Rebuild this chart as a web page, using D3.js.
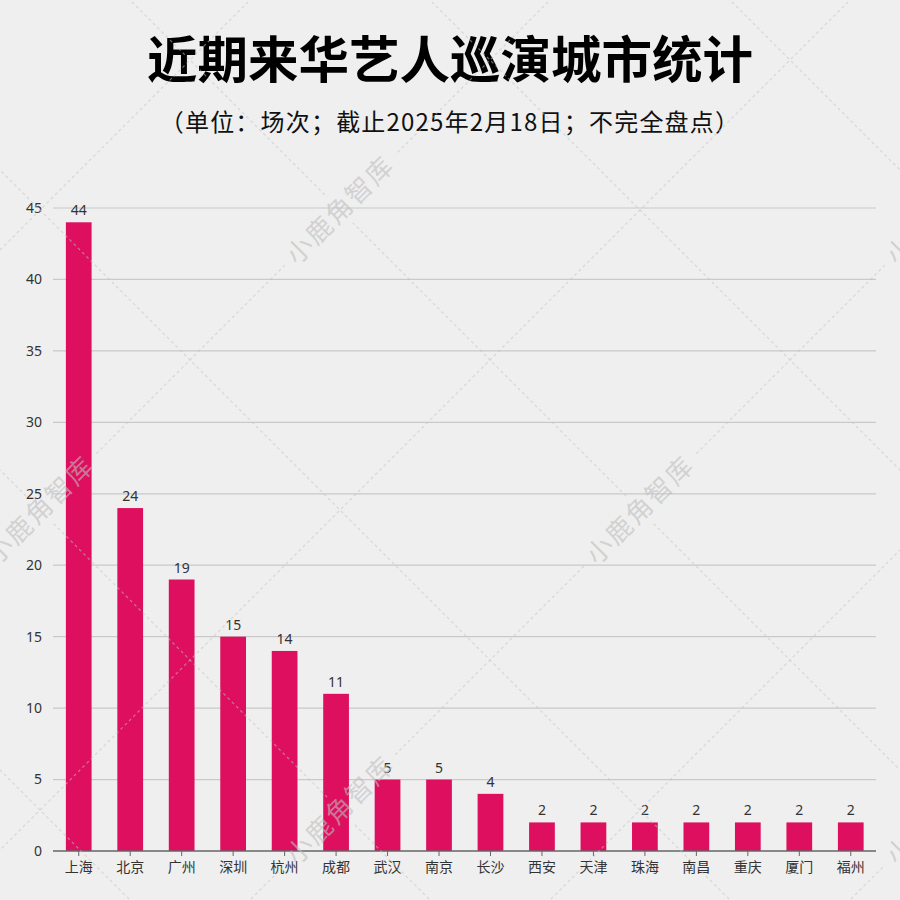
<!DOCTYPE html>
<html><head><meta charset="utf-8">
<script src="https://cdn.jsdelivr.net/npm/d3@7"></script>
<style>
html,body{margin:0;padding:0;background:#efefef;}
svg{display:block;font-family:"Noto Sans CJK SC","Noto Sans",sans-serif;}
</style></head>
<body><svg id="chart" width="900" height="900"></svg>
<script>
const cities = ["上海","北京","广州","深圳","杭州","成都","武汉","南京","长沙","西安","天津","珠海","南昌","重庆","厦门","福州"];
const shows = [44,24,19,15,14,11,5,5,4,2,2,2,2,2,2,2];
const yTicks = [0,5,10,15,20,25,30,35,40,45];
const titleText = "近期来华艺人巡演城市统计";
const subtitleText = "（单位：场次；截止2025年2月18日；不完全盘点）";
const watermarkText = "小鹿角智库";

const svg = d3.select("#chart");
const W = 900, H = 900;
svg.append("rect").attr("width",W).attr("height",H).attr("fill","#efefef");

const x = d3.scaleBand().domain(cities).range([53,876.5]).paddingInner(0.5).paddingOuter(0.25);
const y = d3.scaleLinear().domain([0,45]).range([851,208]);

// grid
svg.append("g").selectAll("line").data(yTicks.filter(d=>d>0)).join("line")
  .attr("x1",53).attr("x2",876).attr("y1",d=>y(d)).attr("y2",d=>y(d))
  .attr("stroke","#c9c9c9").attr("stroke-width",1.2);

// y labels
svg.append("g").selectAll("text").data(yTicks).join("text")
  .attr("x",42).attr("y",d=>y(d)).attr("dy","0.35em")
  .attr("text-anchor","end").attr("font-size",14).attr("fill","#333")
  .attr("font-family","'Noto Sans',sans-serif")
  .text(d=>d);

// bars
svg.append("g").selectAll("rect").data(shows).join("rect")
  .attr("x",(d,i)=>x(cities[i])).attr("width",x.bandwidth())
  .attr("y",d=>y(d)).attr("height",d=>y(0)-y(d))
  .attr("fill","#de0f5e");

// value labels
svg.append("g").selectAll("text").data(shows).join("text")
  .attr("x",(d,i)=>x(cities[i])+x.bandwidth()/2).attr("y",d=>y(d)-7)
  .attr("text-anchor","middle").attr("font-size",14).attr("fill","#333")
  .attr("font-family","'Noto Sans',sans-serif")
  .text(d=>d);

// x axis
const xAxis = d3.axisBottom(x).tickSize(5).tickSizeOuter(0).tickPadding(6);
const gx = svg.append("g").attr("transform",`translate(0,${y(0)})`).call(xAxis);
gx.select(".domain").attr("stroke","#666").attr("stroke-width",1.5).attr("d","M53,0H876");
gx.selectAll(".tick line").attr("stroke","#666");
gx.selectAll(".tick text").attr("font-size",14).attr("fill","#333")
  .attr("font-family","'Noto Sans CJK SC',sans-serif");

// titles
svg.append("text").attr("x",450).attr("y",78).attr("text-anchor","middle")
  .attr("font-size",50.5).attr("font-weight","bold").attr("fill","#000").text(titleText);
svg.append("text").attr("x",450).attr("y",131).attr("text-anchor","middle")
  .attr("font-size",24).attr("letter-spacing",1.2).attr("fill","#111").text(subtitleText);

// watermark
const wm = svg.append("g").attr("pointer-events","none");
const centers = [];
for (let i=-3;i<=3;i++) for (let j=-1;j<=4;j++){
  const u = 130+600*i, v = 550+600*j;
  const cx=(u+v)/2, cy=(v-u)/2;
  if (cx>-10 && cx<960 && cy>100 && cy<850) centers.push([cx,cy]);
}
const defs = svg.append("defs");
const mask = defs.append("mask").attr("id","wmask").attr("maskUnits","userSpaceOnUse")
  .attr("x",0).attr("y",0).attr("width",W).attr("height",H);
mask.append("rect").attr("width",W).attr("height",H).attr("fill","#fff");
centers.forEach(([cx,cy])=>{
  mask.append("rect").attr("x",-78).attr("y",-18).attr("width",156).attr("height",36)
    .attr("fill","#000").attr("transform",`translate(${cx},${cy}) rotate(-45)`);
});
const lg = wm.append("g").attr("mask","url(#wmask)")
  .attr("stroke","rgba(195,195,195,0.55)").attr("stroke-width",1.2).attr("stroke-dasharray","3,3");
for (let k=-4;k<=4;k++){
  const u = 130+300*k; // x - y = u
  lg.append("line").attr("x1",u-100).attr("y1",-100).attr("x2",u+1000).attr("y2",1000);
}
for (let k=-1;k<=6;k++){
  const v = 550+300*k - 600; // x + y = v
  lg.append("line").attr("x1",v+100).attr("y1",-100).attr("x2",v-1000).attr("y2",1000);
}
centers.forEach(([cx,cy])=>{
  wm.append("text").attr("transform",`translate(${cx},${cy}) rotate(-45)`)
    .attr("text-anchor","middle").attr("dy","0.35em").attr("font-size",26)
    .attr("letter-spacing",2)
    .attr("fill","rgba(190,190,190,0.6)").text(watermarkText);
});
</script></body></html>
